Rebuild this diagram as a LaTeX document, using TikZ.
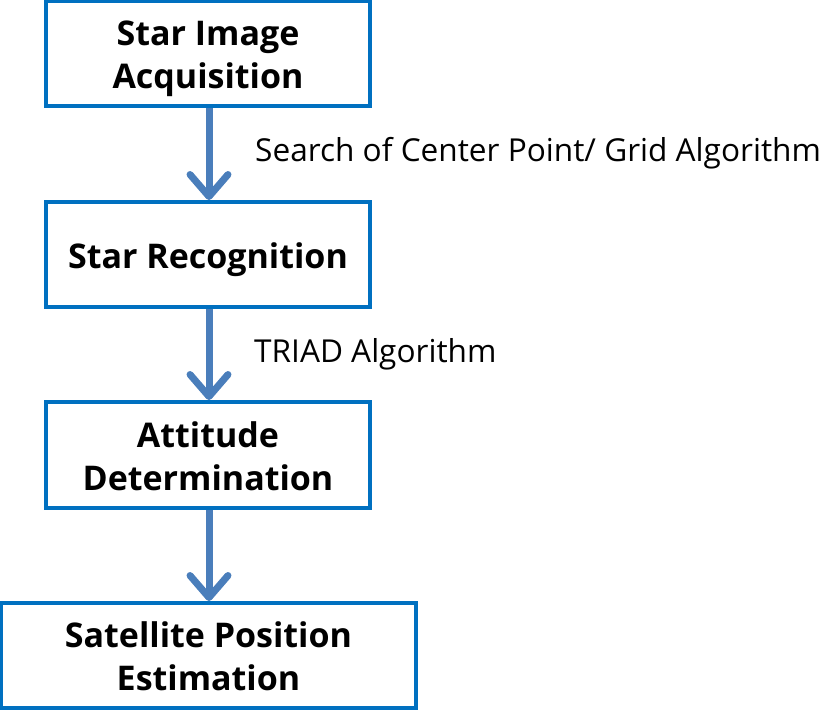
\documentclass[tikz,border=0pt]{standalone}
\usepackage{fontspec}
\setmainfont{Open Sans}
\usetikzlibrary{arrows.meta}
\definecolor{boxblue}{RGB}{0,112,192}
\definecolor{arrowblue}{RGB}{74,126,187}
\newcommand{\boxlines}[1]{\raisebox{-5pt}[\height][\depth]{\begin{tabular}{@{}c@{}}#1\end{tabular}}}
\tikzset{
  stepbox/.style={draw=boxblue, line width=4pt, fill=white, rectangle, inner sep=0pt,
    align=center, font=\fontsize{34}{43}\selectfont\bfseries},
  flowarrow/.style={draw=arrowblue, line width=7pt,
    -{Straight Barb[length=22pt, width=38pt, line width=7pt, round]}},
  steplabel/.style={anchor=base west, inner sep=0pt, font=\fontsize{31.6}{38}\selectfont}
}
\begin{document}
\begin{tikzpicture}[x=1pt, y=-1pt]
\useasboundingbox (0,0) rectangle (827,711);
\node[stepbox, minimum width=324pt, minimum height=105pt] (acq) at (208,53.5) {\boxlines{Star Image\\Acquisition}};
\node[stepbox, minimum width=324pt, minimum height=105pt] (rec) at (208,254.5) {\boxlines{Star Recognition}};
\node[stepbox, minimum width=324pt, minimum height=106pt] (att) at (208,455) {\boxlines{Attitude\\Determination}};
\node[stepbox, minimum width=415pt, minimum height=105pt] (sat) at (208.5,655.5) {\boxlines{Satellite Position\\Estimation}};
\draw[flowarrow] (acq.south -| 209,0) -- (rec.north -| 209,0);
\draw[flowarrow] (rec.south -| 209,0) -- (att.north -| 209,0);
\draw[flowarrow] (att.south -| 209,0) -- (sat.north -| 209,0);
\node[steplabel] (l1) at (255,162) {Search of Center Point/ Grid Algorithm};
\node[steplabel] (l2) at (254,362) {TRIAD Algorithm};
\end{tikzpicture}
\end{document}
